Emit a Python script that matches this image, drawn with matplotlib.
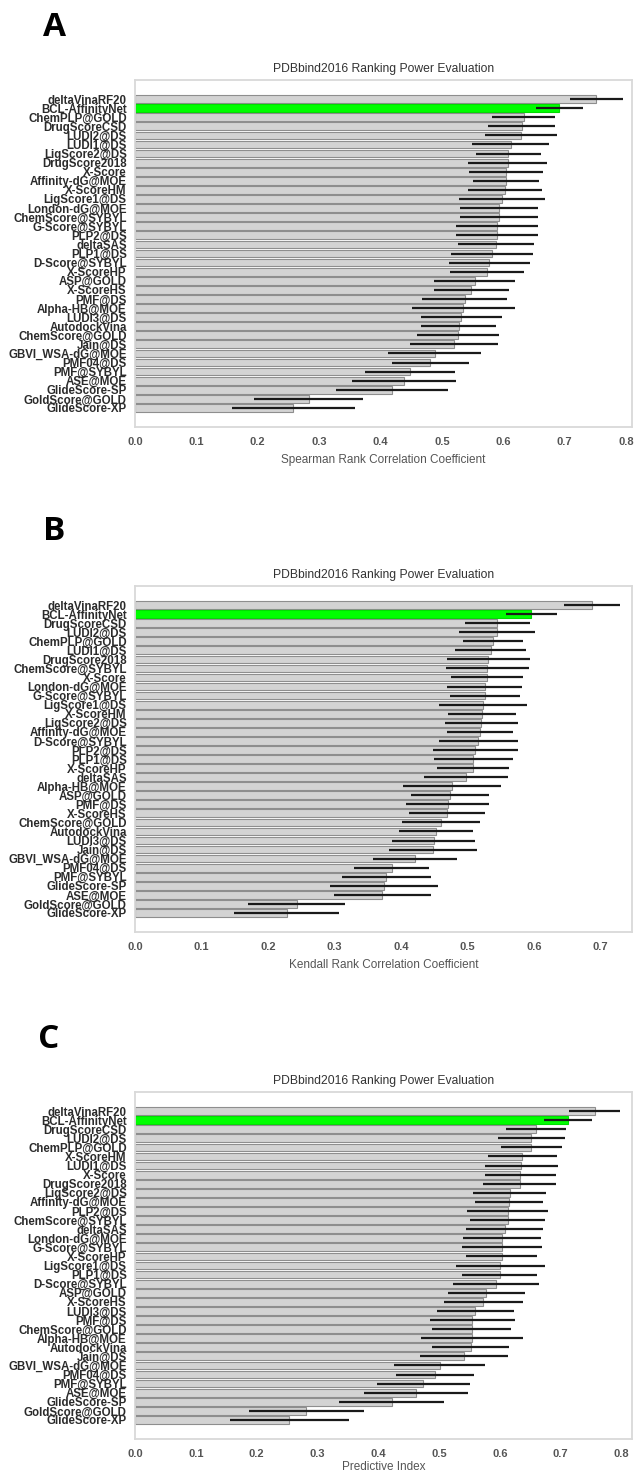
import numpy as np
import matplotlib
matplotlib.use("Agg")
import matplotlib.pyplot as plt

plt.rcParams['font.family'] = ['Liberation Sans', 'DejaVu Sans']

# panel A - Spearman
names_a = ["deltaVinaRF20", "BCL-AffinityNet", "ChemPLP@GOLD", "DrugScoreCSD", "LUDI2@DS",
           "LUDI1@DS", "LigScore2@DS", "DrugScore2018", "X-Score", "Affinity-dG@MOE",
           "X-ScoreHM", "LigScore1@DS", "London-dG@MOE", "ChemScore@SYBYL", "G-Score@SYBYL",
           "PLP2@DS", "deltaSAS", "PLP1@DS", "D-Score@SYBYL", "X-ScoreHP",
           "ASP@GOLD", "X-ScoreHS", "PMF@DS", "Alpha-HB@MOE", "LUDI3@DS",
           "AutodockVina", "ChemScore@GOLD", "Jain@DS", "GBVI_WSA-dG@MOE", "PMF04@DS",
           "PMF@SYBYL", "ASE@MOE", "GlideScore-SP", "GoldScore@GOLD", "GlideScore-XP"]
score_a = [0.751, 0.691, 0.633, 0.630, 0.629, 0.612, 0.608, 0.607, 0.604, 0.604,
           0.603, 0.598, 0.593, 0.593, 0.590, 0.589, 0.588, 0.582, 0.577, 0.573,
           0.553, 0.548, 0.537, 0.535, 0.531, 0.527, 0.526, 0.520, 0.488, 0.481,
           0.448, 0.438, 0.419, 0.283, 0.258]
err_a = [0.043, 0.0385, 0.051, 0.0545, 0.059, 0.0625, 0.053, 0.064, 0.060, 0.054,
         0.060, 0.0705, 0.063, 0.063, 0.067, 0.067, 0.0625, 0.067, 0.066, 0.0605,
         0.066, 0.0615, 0.0695, 0.084, 0.066, 0.0615, 0.0675, 0.072, 0.076, 0.0625,
         0.0735, 0.084, 0.0915, 0.089, 0.0995]

# panel B - Kendall
names_b = ["deltaVinaRF20", "BCL-AffinityNet", "DrugScoreCSD", "LUDI2@DS", "ChemPLP@GOLD",
           "LUDI1@DS", "DrugScore2018", "ChemScore@SYBYL", "X-Score", "London-dG@MOE",
           "G-Score@SYBYL", "LigScore1@DS", "X-ScoreHM", "LigScore2@DS", "Affinity-dG@MOE",
           "D-Score@SYBYL", "PLP2@DS", "PLP1@DS", "X-ScoreHP", "deltaSAS",
           "Alpha-HB@MOE", "ASP@GOLD", "PMF@DS", "X-ScoreHS", "ChemScore@GOLD",
           "AutodockVina", "LUDI3@DS", "Jain@DS", "GBVI_WSA-dG@MOE", "PMF04@DS",
           "PMF@SYBYL", "GlideScore-SP", "ASE@MOE", "GoldScore@GOLD", "GlideScore-XP"]
score_b = [0.687, 0.596, 0.545, 0.544, 0.538, 0.535, 0.531, 0.530, 0.529, 0.526,
           0.526, 0.523, 0.522, 0.521, 0.519, 0.516, 0.512, 0.509, 0.508, 0.498,
           0.477, 0.474, 0.470, 0.469, 0.460, 0.453, 0.449, 0.448, 0.421, 0.386,
           0.378, 0.374, 0.372, 0.243, 0.228]
err_b = [0.0425, 0.0385, 0.049, 0.0575, 0.045, 0.0535, 0.0625, 0.0625, 0.0545, 0.0565,
         0.0525, 0.0665, 0.0515, 0.0545, 0.0495, 0.0595, 0.0635, 0.0595, 0.0545, 0.0635,
         0.0735, 0.059, 0.063, 0.057, 0.059, 0.0555, 0.063, 0.066, 0.063, 0.056,
         0.0665, 0.0815, 0.0735, 0.0735, 0.079]

# panel C - predictive index
names_c = ["deltaVinaRF20", "BCL-AffinityNet", "DrugScoreCSD", "LUDI2@DS", "ChemPLP@GOLD",
           "X-ScoreHM", "LUDI1@DS", "X-Score", "DrugScore2018", "LigScore2@DS",
           "Affinity-dG@MOE", "PLP2@DS", "ChemScore@SYBYL", "deltaSAS", "London-dG@MOE",
           "G-Score@SYBYL", "X-ScoreHP", "LigScore1@DS", "PLP1@DS", "D-Score@SYBYL",
           "ASP@GOLD", "X-ScoreHS", "LUDI3@DS", "PMF@DS", "ChemScore@GOLD",
           "Alpha-HB@MOE", "AutodockVina", "Jain@DS", "GBVI_WSA-dG@MOE", "PMF04@DS",
           "PMF@SYBYL", "ASE@MOE", "GlideScore-SP", "GoldScore@GOLD", "GlideScore-XP"]
score_c = [0.756, 0.712, 0.659, 0.652, 0.652, 0.637, 0.635, 0.634, 0.633, 0.616,
           0.615, 0.613, 0.613, 0.608, 0.604, 0.604, 0.603, 0.601, 0.600, 0.594,
           0.578, 0.573, 0.560, 0.555, 0.554, 0.554, 0.552, 0.541, 0.501, 0.493,
           0.474, 0.4625, 0.422, 0.282, 0.254]
err_c = [0.0415, 0.039, 0.0495, 0.0545, 0.0495, 0.057, 0.060, 0.059, 0.060, 0.060,
         0.0565, 0.067, 0.062, 0.063, 0.064, 0.066, 0.058, 0.0735, 0.062, 0.071,
         0.064, 0.0648, 0.063, 0.0695, 0.065, 0.084, 0.063, 0.0717, 0.075, 0.064,
         0.0765, 0.0853, 0.0865, 0.095, 0.0985]

xticks_a = [0.0, 0.1, 0.2, 0.3, 0.4, 0.5, 0.6, 0.7, 0.8]
xticks_b = [0.0, 0.1, 0.2, 0.3, 0.4, 0.5, 0.6, 0.7]
xticks_c = [0.0, 0.1, 0.2, 0.3, 0.4, 0.5, 0.6, 0.7, 0.8]

W, H = 635, 1473
fig = plt.figure(figsize=(W / 100, H / 100), dpi=100)


def panel(top, bottom, names, score, err, xmax, xticks, xlabel, letter, letter_xy, lpad=5):
    ax = fig.add_axes([135 / W, 1 - bottom / H, 497 / W, (bottom - top) / H])
    y = np.arange(len(names))
    colors = ['#00ff00' if n == 'BCL-AffinityNet' else '#d3d3d3' for n in names]
    edges = ['#00dd00' if n == 'BCL-AffinityNet' else '#8e8e8e' for n in names]
    ax.barh(y, score, height=0.85, color=colors, edgecolor=edges, linewidth=0.8, zorder=2)
    ax.errorbar(score, y, xerr=err, fmt='none', ecolor='#1a1a1a', elinewidth=1.6,
                capsize=0, zorder=3)
    ax.set_ylim(len(names) - 1 + 2.1, -2.1)
    ax.set_xlim(0, xmax)
    ax.set_yticks(y)
    ax.set_yticklabels(names, fontsize=8.3, fontweight='bold', color='#2b2b2b')
    ax.set_xticks(xticks)
    ax.set_xticklabels(['%.1f' % t for t in xticks], fontsize=8, fontweight='bold',
                       color='#555555')
    ax.tick_params(length=0)
    ax.tick_params(axis='y', pad=6)
    ax.tick_params(axis='x', pad=7)
    for s in ax.spines.values():
        s.set_color('#d9d9d9')
        s.set_linewidth(1.3)
    ax.set_title('PDBbind2016 Ranking Power Evaluation', fontsize=8.7, color='#333333',
                 pad=6)
    ax.set_xlabel(xlabel, fontsize=8.5, color='#555555', labelpad=lpad)
    fig.text(letter_xy[0] / W, 1 - letter_xy[1] / H, letter, fontsize=24,
             fontweight='bold', family=['Open Sans', 'DejaVu Sans'],
             ha='left', va='center', color='black')
    return ax


panel(80, 427, names_a, score_a, err_a, 497 / 614.0, xticks_a,
      'Spearman Rank Correlation Coefficient', 'A', (43, 27))
panel(586, 932, names_b, score_b, err_b, 497 / 665.0, xticks_b,
      'Kendall Rank Correlation Coefficient', 'B', (43, 532))
panel(1092, 1439, names_c, score_c, err_c, 497 / 608.0, xticks_c,
      'Predictive Index', 'C', (38, 1039), lpad=2)

fig.savefig('out.png', dpi=100)
